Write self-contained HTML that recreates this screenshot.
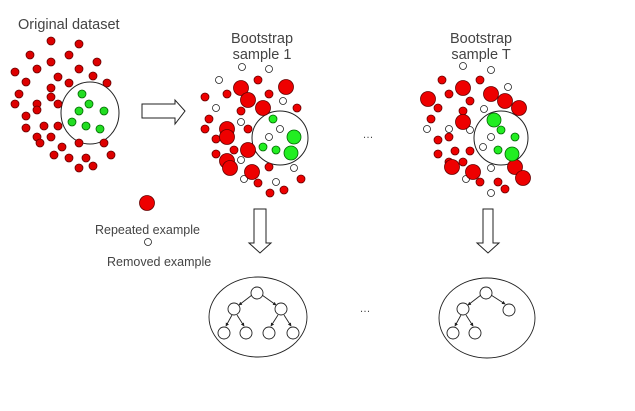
<!DOCTYPE html>
<html><head><meta charset="utf-8"><style>
html,body{margin:0;padding:0;background:#fff;}
svg{display:block;}
text{font-family:"Liberation Sans",sans-serif;fill:#444;}
</style></head><body>
<svg width="635" height="411" viewBox="0 0 635 411">
<defs>
<marker id="ah" viewBox="0 0 6 6" refX="5" refY="3" markerWidth="4" markerHeight="4" orient="auto"><path d="M0,0L6,3L0,6z" fill="#222"/></marker>
</defs>
<text x="18" y="29" font-size="14.5">Original dataset</text>
<text x="262" y="43" font-size="14.5" text-anchor="middle">Bootstrap</text>
<text x="262" y="59" font-size="14.5" text-anchor="middle">sample 1</text>
<text x="481" y="43" font-size="14.5" text-anchor="middle">Bootstrap</text>
<text x="481" y="59" font-size="14.5" text-anchor="middle">sample T</text>

<g stroke="#600" stroke-width="0.8">
<ellipse cx="90" cy="113" rx="29" ry="31" fill="none" stroke="#222" stroke-width="1"/>
<g fill="#d00">
<circle cx="51" cy="41" r="4"/><circle cx="79" cy="44" r="4"/><circle cx="30" cy="55" r="4"/><circle cx="69" cy="55" r="4"/><circle cx="97" cy="62" r="4"/><circle cx="15" cy="72" r="4"/><circle cx="37" cy="69" r="4"/><circle cx="51" cy="62" r="4"/><circle cx="79" cy="69" r="4"/><circle cx="58" cy="77" r="4"/><circle cx="93" cy="76" r="4"/><circle cx="26" cy="82" r="4"/><circle cx="69" cy="83" r="4"/><circle cx="51" cy="88" r="4"/><circle cx="107" cy="83" r="4"/><circle cx="19" cy="94" r="4"/><circle cx="51" cy="97" r="4"/><circle cx="15" cy="104" r="4"/><circle cx="37" cy="104" r="4"/><circle cx="37" cy="110" r="4"/><circle cx="58" cy="104" r="4"/><circle cx="26" cy="116" r="4"/><circle cx="44" cy="126" r="4"/><circle cx="58" cy="126" r="4"/><circle cx="26" cy="128" r="4"/><circle cx="37" cy="137" r="4"/><circle cx="51" cy="137" r="4"/><circle cx="40" cy="143" r="4"/><circle cx="79" cy="143" r="4"/><circle cx="104" cy="143" r="4"/><circle cx="62" cy="147" r="4"/><circle cx="54" cy="155" r="4"/><circle cx="69" cy="158" r="4"/><circle cx="86" cy="158" r="4"/><circle cx="111" cy="155" r="4"/><circle cx="79" cy="168" r="4"/><circle cx="93" cy="166" r="4"/>
</g>
<g fill="#2d2" stroke="#060">
<circle cx="82" cy="94" r="4"/><circle cx="89" cy="104" r="4"/><circle cx="79" cy="111" r="4"/><circle cx="104" cy="111" r="4"/><circle cx="72" cy="122" r="4"/><circle cx="86" cy="126" r="4"/><circle cx="100" cy="129" r="4"/>
</g>
</g>

<path d="M142,104 L175,104 L175,100 L185,111 L175,124 L175,118 L142,118 Z" fill="#fff" stroke="#222" stroke-width="1"/>

<g stroke-width="0.8">
<ellipse cx="280" cy="138" rx="28" ry="27" fill="none" stroke="#222" stroke-width="1"/>
<g fill="#fff" stroke="#222">
<circle cx="242" cy="67" r="3.5"/><circle cx="269" cy="69" r="3.5"/><circle cx="219" cy="80" r="3.5"/><circle cx="283" cy="101" r="3.5"/><circle cx="216" cy="108" r="3.5"/><circle cx="241" cy="122" r="3.5"/><circle cx="280" cy="129" r="3.5"/><circle cx="269" cy="137" r="3.5"/><circle cx="241" cy="160" r="3.5"/><circle cx="294" cy="168" r="3.5"/><circle cx="244" cy="179" r="3.5"/><circle cx="276" cy="182" r="3.5"/>
</g>
<g fill="#e00" stroke="#600">
<circle cx="258" cy="80" r="4"/><circle cx="205" cy="97" r="4"/><circle cx="227" cy="94" r="4"/><circle cx="269" cy="94" r="4"/><circle cx="241" cy="111" r="4"/><circle cx="297" cy="108" r="4"/><circle cx="209" cy="119" r="4"/><circle cx="205" cy="129" r="4"/><circle cx="248" cy="129" r="4"/><circle cx="216" cy="139" r="4"/><circle cx="234" cy="150" r="4"/><circle cx="216" cy="154" r="4"/><circle cx="269" cy="167" r="4"/><circle cx="258" cy="183" r="4"/><circle cx="301" cy="179" r="4"/><circle cx="270" cy="193" r="4"/><circle cx="284" cy="190" r="4"/>
<circle cx="241" cy="88" r="7.5"/><circle cx="286" cy="87" r="7.5"/><circle cx="248" cy="100" r="7.5"/><circle cx="263" cy="108" r="7.5"/><circle cx="227" cy="129" r="7.5"/><circle cx="227" cy="137" r="7.5"/><circle cx="248" cy="150" r="7.5"/><circle cx="227" cy="161" r="7.5"/><circle cx="230" cy="168" r="7.5"/><circle cx="252" cy="172" r="7.5"/>
</g>
<g fill="#2e2" stroke="#060">
<circle cx="273" cy="119" r="4"/><circle cx="263" cy="147" r="4"/><circle cx="276" cy="150" r="4"/><circle cx="294" cy="137" r="7"/><circle cx="291" cy="153" r="7"/>
</g>
</g>

<g stroke-width="0.8">
<ellipse cx="501" cy="138" rx="27" ry="27" fill="none" stroke="#222" stroke-width="1"/>
<g fill="#fff" stroke="#222">
<circle cx="463" cy="66" r="3.5"/><circle cx="491" cy="70" r="3.5"/><circle cx="508" cy="87" r="3.5"/><circle cx="484" cy="109" r="3.5"/><circle cx="427" cy="129" r="3.5"/><circle cx="449" cy="129" r="3.5"/><circle cx="470" cy="130" r="3.5"/><circle cx="491" cy="137" r="3.5"/><circle cx="483" cy="147" r="3.5"/><circle cx="491" cy="168" r="3.5"/><circle cx="466" cy="179" r="3.5"/><circle cx="491" cy="193" r="3.5"/>
</g>
<g fill="#e00" stroke="#600">
<circle cx="442" cy="80" r="4"/><circle cx="480" cy="80" r="4"/><circle cx="449" cy="94" r="4"/><circle cx="470" cy="101" r="4"/><circle cx="438" cy="108" r="4"/><circle cx="463" cy="111" r="4"/><circle cx="431" cy="119" r="4"/><circle cx="449" cy="137" r="4"/><circle cx="438" cy="140" r="4"/><circle cx="455" cy="151" r="4"/><circle cx="470" cy="151" r="4"/><circle cx="438" cy="154" r="4"/><circle cx="449" cy="162" r="4"/><circle cx="463" cy="162" r="4"/><circle cx="480" cy="182" r="4"/><circle cx="498" cy="182" r="4"/><circle cx="505" cy="189" r="4"/>
<circle cx="463" cy="88" r="7.5"/><circle cx="428" cy="99" r="7.5"/><circle cx="491" cy="94" r="7.5"/><circle cx="505" cy="101" r="7.5"/><circle cx="519" cy="108" r="7.5"/><circle cx="463" cy="122" r="7.5"/><circle cx="452" cy="167" r="7.5"/><circle cx="473" cy="172" r="7.5"/><circle cx="515" cy="167" r="7.5"/><circle cx="523" cy="178" r="7.5"/>
</g>
<g fill="#2e2" stroke="#060">
<circle cx="501" cy="130" r="4"/><circle cx="515" cy="137" r="4"/><circle cx="498" cy="150" r="4"/><circle cx="494" cy="120" r="7"/><circle cx="512" cy="154" r="7"/>
</g>
</g>

<text x="368" y="138" font-size="11" text-anchor="middle">…</text>
<text x="365" y="312" font-size="11" text-anchor="middle">…</text>

<g>
<circle cx="147" cy="203" r="7.5" fill="#e00" stroke="#600" stroke-width="0.8"/>
<text x="95" y="234" font-size="12.5">Repeated example</text>
<circle cx="148" cy="242" r="3.5" fill="#fff" stroke="#222" stroke-width="0.8"/>
<text x="107" y="266" font-size="12.5">Removed example</text>
</g>

<path d="M254,209 L266,209 L266,243 L271,243 L260,253 L249,243 L254,243 Z" fill="#fff" stroke="#222" stroke-width="1"/>
<path d="M483,209 L493,209 L493,243 L499,243 L488,253 L477,243 L483,243 Z" fill="#fff" stroke="#222" stroke-width="1"/>

<g fill="#fff" stroke="#222" stroke-width="0.9">
<ellipse cx="258" cy="317" rx="49" ry="40"/>
<line x1="252" y1="295" x2="239" y2="305" marker-end="url(#ah)"/><line x1="262" y1="295" x2="276" y2="305" marker-end="url(#ah)"/>
<line x1="232" y1="315" x2="226" y2="326" marker-end="url(#ah)"/><line x1="237" y1="315" x2="244" y2="326" marker-end="url(#ah)"/>
<line x1="278" y1="315" x2="271" y2="326" marker-end="url(#ah)"/><line x1="284" y1="315" x2="291" y2="326" marker-end="url(#ah)"/>
<circle cx="257" cy="293" r="6"/><circle cx="234" cy="309" r="6"/><circle cx="281" cy="309" r="6"/>
<circle cx="224" cy="333" r="6"/><circle cx="246" cy="333" r="6"/><circle cx="269" cy="333" r="6"/><circle cx="293" cy="333" r="6"/>
</g>
<g fill="#fff" stroke="#222" stroke-width="0.9">
<ellipse cx="487" cy="318" rx="48" ry="40"/>
<line x1="481" y1="295" x2="468" y2="305" marker-end="url(#ah)"/><line x1="491" y1="295" x2="505" y2="304" marker-end="url(#ah)"/>
<line x1="461" y1="315" x2="455" y2="326" marker-end="url(#ah)"/><line x1="466" y1="315" x2="473" y2="326" marker-end="url(#ah)"/>
<circle cx="486" cy="293" r="6"/><circle cx="463" cy="309" r="6"/><circle cx="509" cy="310" r="6"/>
<circle cx="453" cy="333" r="6"/><circle cx="475" cy="333" r="6"/>
</g>
</svg>
</body></html>
